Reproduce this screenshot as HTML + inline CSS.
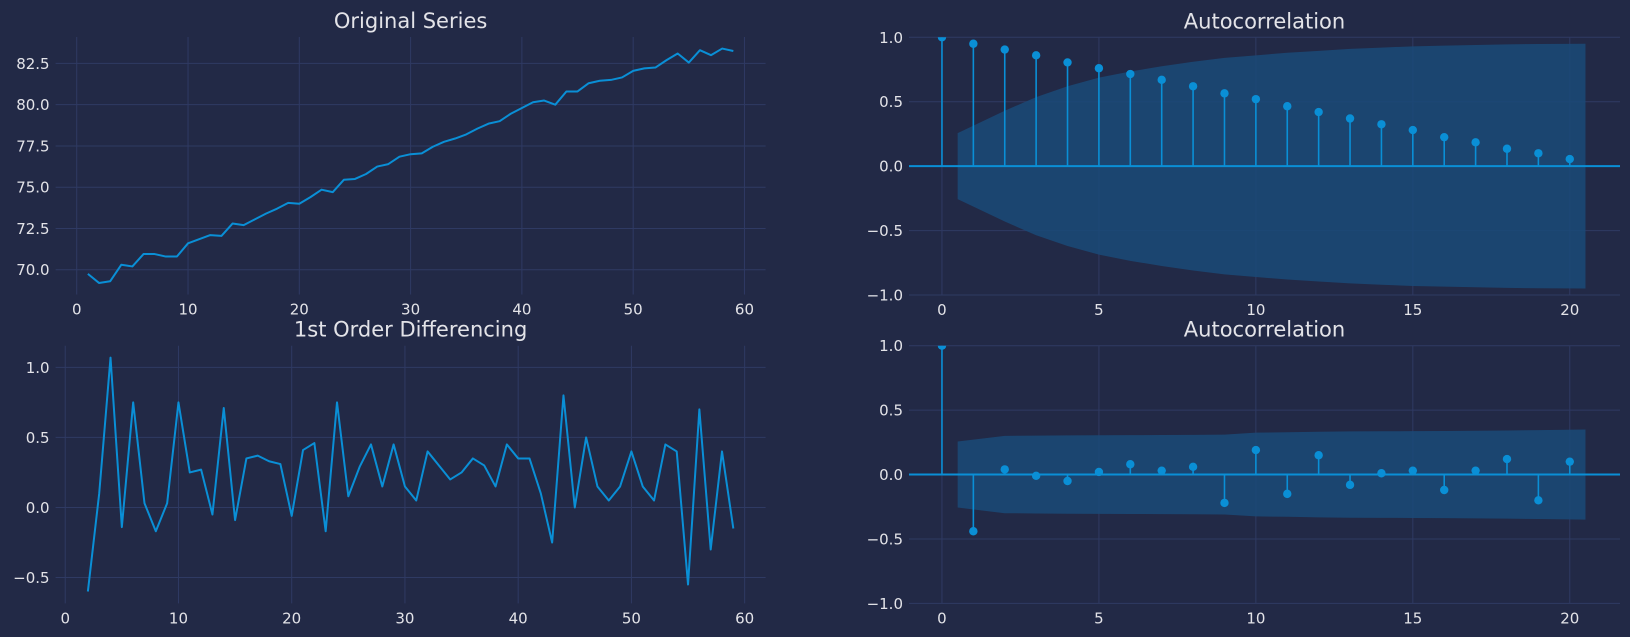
<!DOCTYPE html>
<html><head><meta charset="utf-8"><style>
html,body{margin:0;padding:0;background:#222946;}
svg{display:block;font-family:"DejaVu Sans","Liberation Sans",sans-serif;}
</style></head><body>
<svg id="fig" width="1630" height="637" viewBox="0 0 1630 637" xmlns="http://www.w3.org/2000/svg">
<rect width="1630" height="637" fill="#222946"/>
</svg>
<script>
const seriesX = [];
const seriesValues = [69.75,69.2,69.3,70.3,70.2,70.95,70.95,70.8,70.8,71.6,71.85,72.1,72.05,72.8,72.7,73.05,73.4,73.7,74.05,74.0,74.4,74.85,74.7,75.45,75.5,75.8,76.25,76.4,76.85,77.0,77.05,77.45,77.75,77.95,78.2,78.55,78.85,79.0,79.45,79.8,80.15,80.25,80.0,80.8,80.8,81.3,81.45,81.5,81.65,82.05,82.2,82.25,82.7,83.1,82.55,83.3,83.0,83.4,83.25];
const diffValues = [-0.6,0.1,1.07,-0.14,0.75,0.03,-0.17,0.03,0.75,0.25,0.27,-0.05,0.71,-0.09,0.35,0.37,0.33,0.31,-0.06,0.41,0.46,-0.17,0.75,0.08,0.29,0.45,0.15,0.45,0.15,0.05,0.4,0.3,0.2,0.25,0.35,0.3,0.15,0.45,0.35,0.35,0.1,-0.25,0.8,0.0,0.5,0.15,0.05,0.15,0.4,0.15,0.05,0.45,0.4,-0.55,0.7,-0.3,0.4,-0.15];
const acf1Values = [1,0.95,0.905,0.86,0.805,0.76,0.715,0.67,0.62,0.565,0.52,0.465,0.42,0.37,0.325,0.28,0.225,0.185,0.135,0.10,0.055];
const acf1Conf = [0.256,0.43,0.536,0.62,0.687,0.735,0.775,0.81,0.84,0.86,0.88,0.895,0.91,0.92,0.93,0.935,0.94,0.945,0.948,0.95];
const acf2Values = [1,-0.44,0.04,-0.01,-0.05,0.02,0.08,0.03,0.06,-0.22,0.19,-0.15,0.15,-0.08,0.01,0.03,-0.12,0.03,0.12,-0.20,0.10];
const acf2Conf = [0.256,0.30,0.302,0.304,0.305,0.306,0.307,0.308,0.31,0.325,0.328,0.332,0.335,0.336,0.337,0.338,0.34,0.342,0.345,0.35];
const tlXTicks = [0,10,20,30,40,50,60];
const tlYTicks = [70.0,72.5,75.0,77.5,80.0,82.5];
const blYTicks = [-0.5,0.0,0.5,1.0];
const acfXTicks = [0,5,10,15,20];
const acfYTicks = [-1.0,-0.5,0.0,0.5,1.0];

const NS="http://www.w3.org/2000/svg";
const svg=document.getElementById('fig');
const LINE="#0a8fd6", GRID="#2f3a63", TXT="#e3e3e8";
function mk(tag,attrs,parent){const e=document.createElementNS(NS,tag);for(const k in attrs)e.setAttribute(k,attrs[k]);(parent||svg).appendChild(e);return e;}
function fmt(v,d){return (v<0?'\u2212':'')+Math.abs(v).toFixed(d);}

function axes(name,box,xlim,ylim,xt,yt,dec,title){
  const g=mk('g',{});
  
  
  const sx=v=>box.l+(v-xlim[0])/(xlim[1]-xlim[0])*(box.r-box.l);
  const sy=v=>box.b-(v-ylim[0])/(ylim[1]-ylim[0])*(box.b-box.t);
  xt.forEach(v=>{
    const x=sx(v);
    const gl=mk('line',{x1:x,x2:x,y1:box.t,y2:box.b,stroke:GRID,'stroke-width':1},g);
    
    
    const t=mk('text',{x:x,y:box.b+20,'text-anchor':'middle','font-size':15,fill:TXT},g);
    
    
    t.textContent=fmt(v,0);
  });
  yt.forEach(v=>{
    const y=sy(v);
    const gl=mk('line',{x1:box.l,x2:box.r,y1:y,y2:y,stroke:GRID,'stroke-width':1},g);
    
    
    const t=mk('text',{x:box.l-6,y:y+5.5,'text-anchor':'end','font-size':15,fill:TXT},g);
    
    
    t.textContent=fmt(v,dec);
  });
  const tt=mk('text',{x:(box.l+box.r)/2,y:box.t-9,'text-anchor':'middle','font-size':21,fill:TXT},g);
  
  
  tt.textContent=title;
  return {g,sx,sy};
}

function linePlot(ax,xs,ys,name){
  const d=ys.map((v,i)=>(i?'L':'M')+ax.sx(xs[i]).toFixed(2)+','+ax.sy(v).toFixed(2)).join('');
  const p=mk('path',{d:d,fill:'none',stroke:LINE,'stroke-width':2,'stroke-linejoin':'round'},ax.g);
  
  
}

function acfPlot(ax,vals,conf,box,name){
  const xs=conf.map((c,i)=>i+1);
  xs[0]=0.5; xs[xs.length-1]=xs.length+0.5;
  let d='M'+xs.map((x,i)=>ax.sx(x).toFixed(2)+','+ax.sy(conf[i]).toFixed(2)).join('L');
  for(let i=xs.length-1;i>=0;i--) d+='L'+ax.sx(xs[i]).toFixed(2)+','+ax.sy(-conf[i]).toFixed(2);
  const band=mk('path',{d:d+'Z',fill:'#1a4a78','fill-opacity':0.85},ax.g);
  
  
  const base=mk('line',{x1:box.l,x2:box.r,y1:ax.sy(0),y2:ax.sy(0),stroke:LINE,'stroke-width':2},ax.g);
  
  
  vals.forEach((v,i)=>{
    const x=ax.sx(i);
    const s=mk('line',{x1:x,x2:x,y1:ax.sy(0),y2:ax.sy(v),stroke:LINE,'stroke-width':1.6},ax.g);
    
    
    const c=mk('circle',{cx:x,cy:ax.sy(v),r:4.2,fill:LINE},ax.g);
    
    
  });
}

// clip for right charts top
const defs=mk('defs',{});
const cp=mk('clipPath',{id:'cTR'},defs);mk('rect',{x:905,y:37.3,width:720,height:258},cp);
const cp2=mk('clipPath',{id:'cBR'},defs);mk('rect',{x:905,y:345.7,width:720,height:258},cp2);

const boxTL={l:55.6,r:765.6,t:37,b:294.5};
const axTL=axes('original-series-plot',boxTL,[-1.9,61.9],[68.5,84.1],tlXTicks,tlYTicks,1,'Original Series');
linePlot(axTL,seriesValues.map((v,i)=>i+1),seriesValues,'original-series-line');

const boxBL={l:55.6,r:765.6,t:345.7,b:603.4};
const axBL=axes('differencing-plot',boxBL,[-0.85,61.85],[-0.685,1.155],tlXTicks,blYTicks,1,'1st Order Differencing');
linePlot(axBL,diffValues.map((v,i)=>i+2),diffValues,'differenced-series-line');

const boxTR={l:909,r:1620,t:37.3,b:295};
const axTR=axes('acf-original-plot',boxTR,[-1.05,21.6],[-1,1],acfXTicks,acfYTicks,1,'Autocorrelation');
const gTR=mk('g',{'clip-path':'url(#cTR)'},axTR.g);
acfPlot({g:gTR,sx:axTR.sx,sy:axTR.sy},acf1Values,acf1Conf,boxTR,'acf1');

const boxBR={l:909,r:1620,t:345.7,b:603.4};
const axBR=axes('acf-differenced-plot',boxBR,[-1.05,21.6],[-1,1],acfXTicks,acfYTicks,1,'Autocorrelation');
const gBR=mk('g',{'clip-path':'url(#cBR)'},axBR.g);
acfPlot({g:gBR,sx:axBR.sx,sy:axBR.sy},acf2Values,acf2Conf,boxBR,'acf2');
</script>
</body></html>
